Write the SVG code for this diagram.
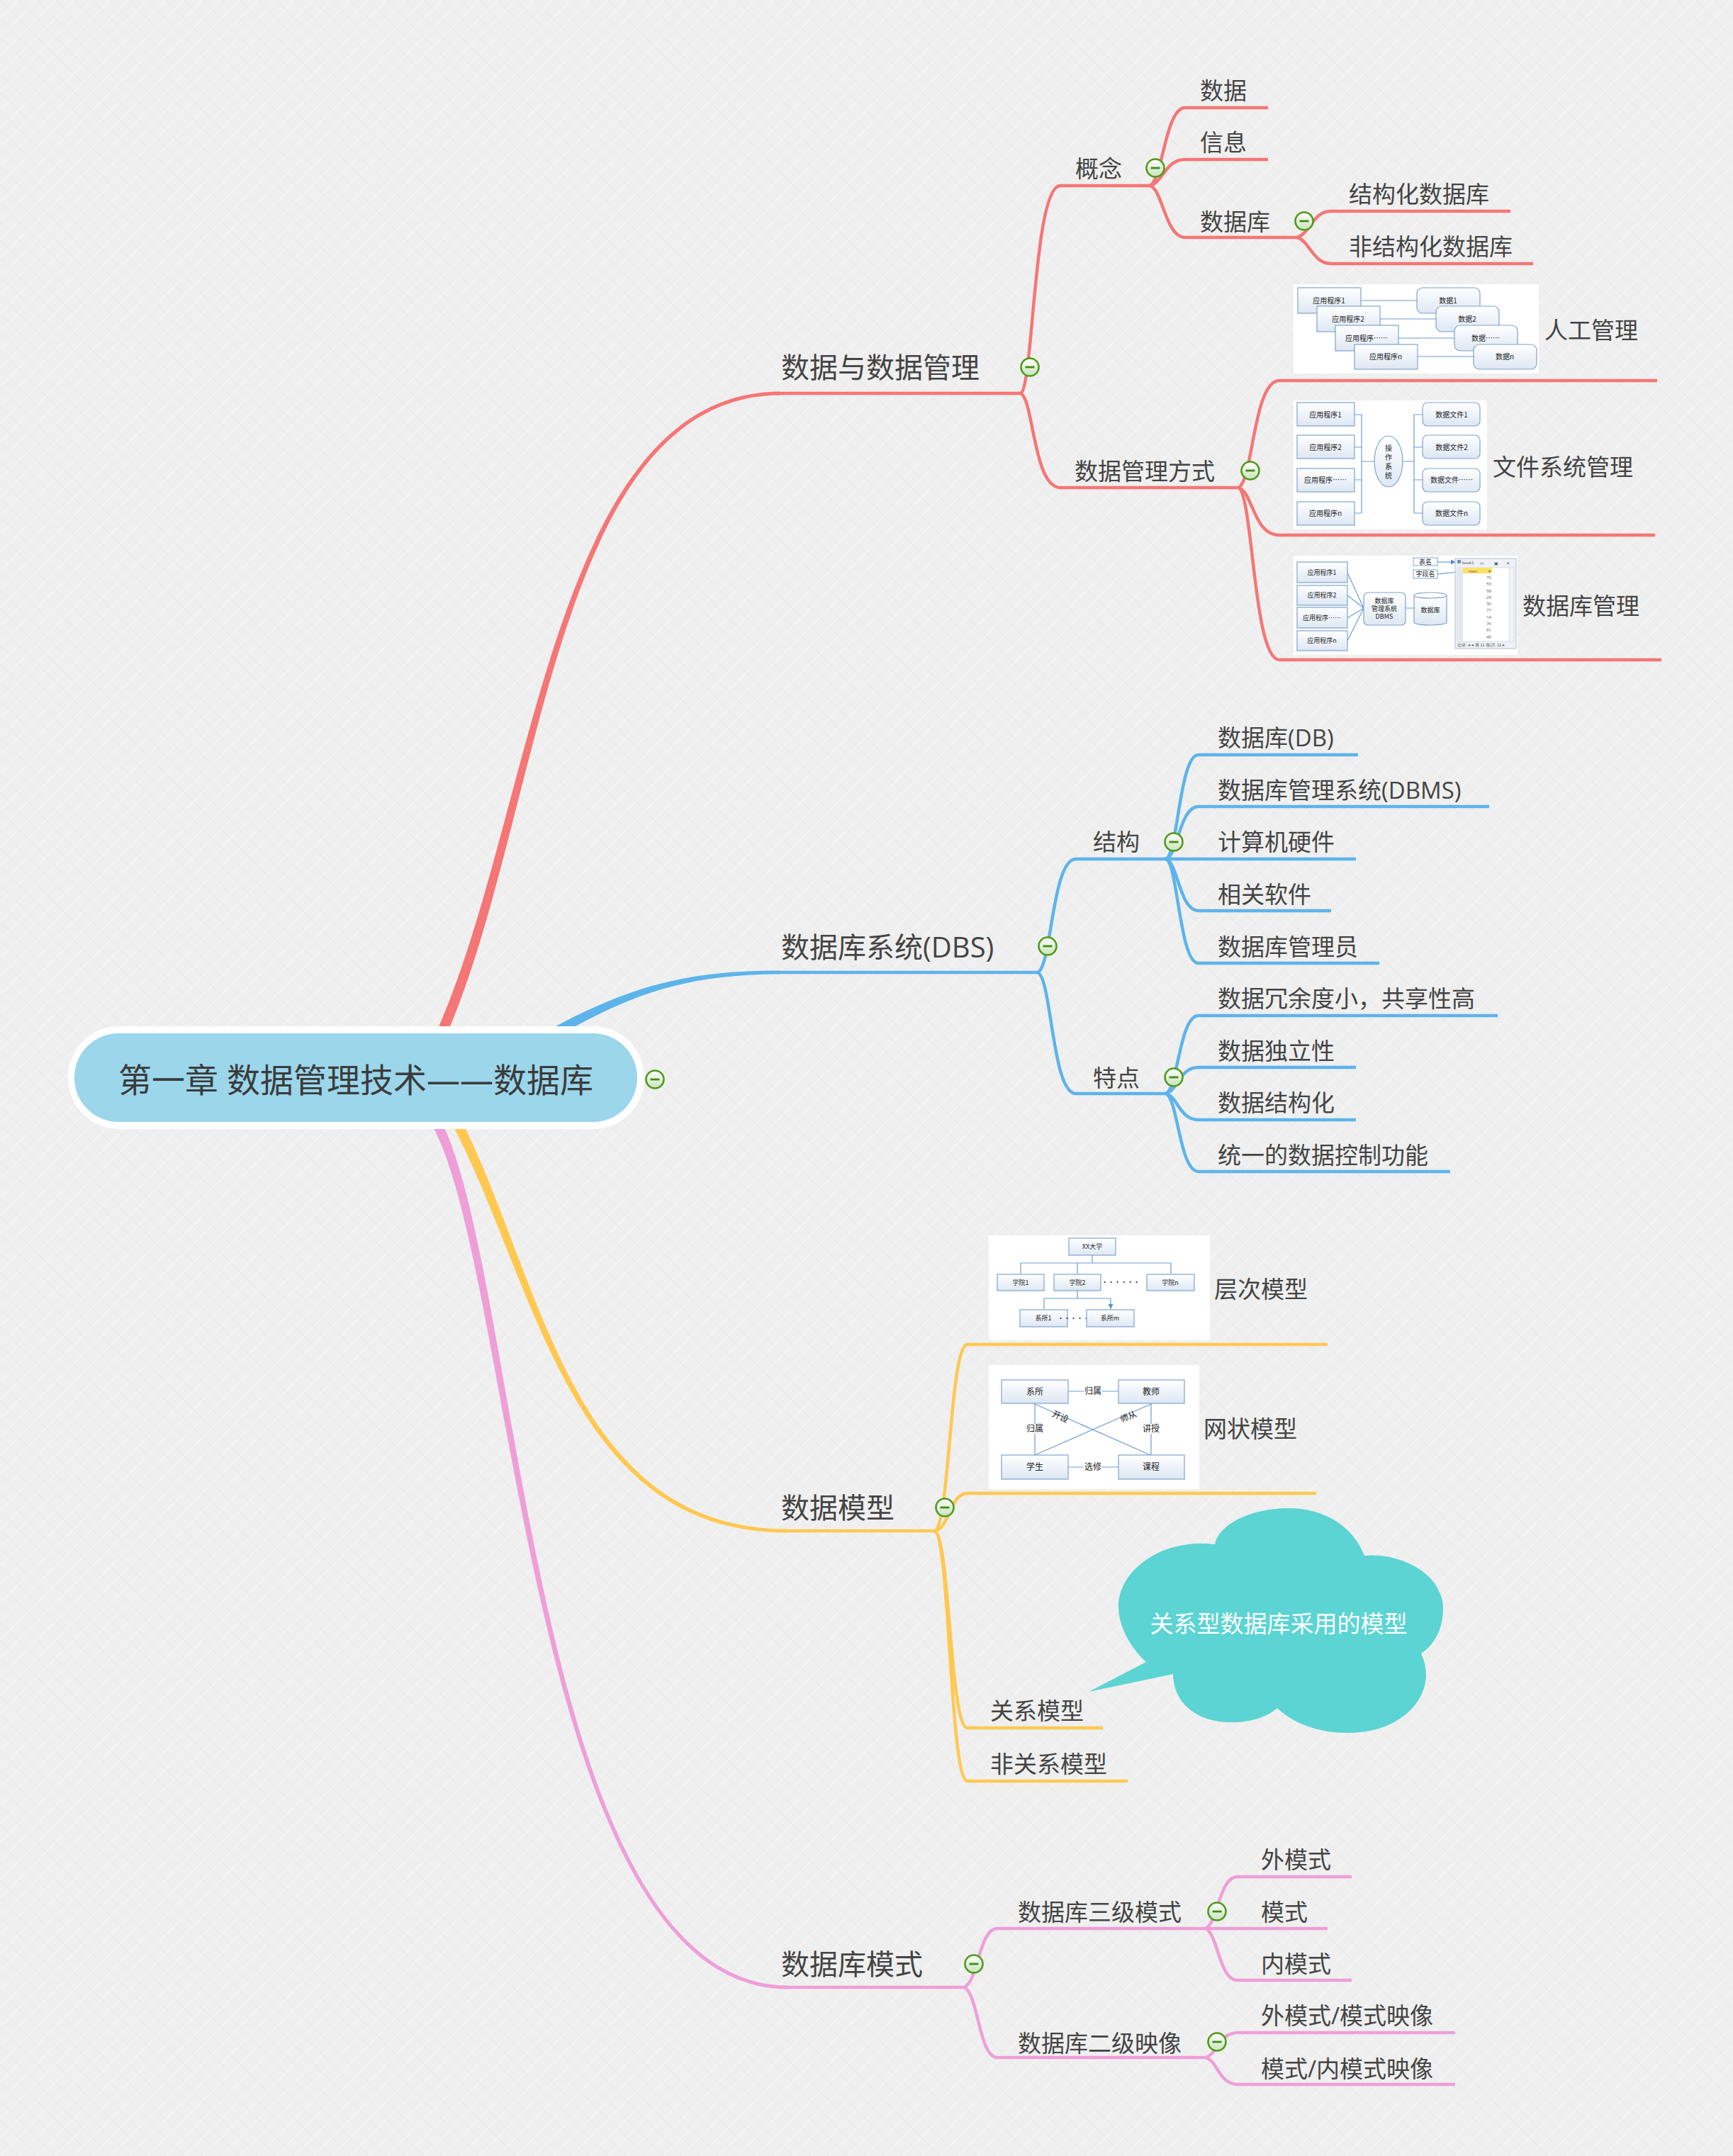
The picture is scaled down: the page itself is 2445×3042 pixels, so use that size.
<svg xmlns="http://www.w3.org/2000/svg" width="2445" height="3042" viewBox="0 0 2445 3042">
<style>
text{font-family:"Open Sans","Noto Sans CJK SC",sans-serif}
.t0{font-size:47px;fill:#3b3b3b;text-anchor:middle}
.t1{font-size:40px;fill:#444}
.t2{font-size:33px;fill:#444}
.tc{font-size:33px;fill:#fff;text-anchor:middle}
.it{font-family:"Noto Sans CJK SC",sans-serif;font-size:10px;fill:#222;text-anchor:middle}
.is{font-family:"Noto Sans CJK SC",sans-serif;font-size:9px;fill:#222;text-anchor:middle}
.im{font-family:"Noto Sans CJK SC",sans-serif;font-size:12px;fill:#222;text-anchor:middle}
.ix{font-family:"Liberation Sans",sans-serif;font-size:6px;fill:#555}
.ib{fill:url(#boxg);stroke:#7fa3cc;stroke-width:1.2}
.il{fill:none;stroke:#6f9bd0;stroke-width:1.2}
.red{fill:none;stroke:#f57676;stroke-width:4.5}
.blue{fill:none;stroke:#5db4ea;stroke-width:4.5}
.yel{fill:none;stroke:#ffc851;stroke-width:4.5}
.pink{fill:none;stroke:#ee9fd8;stroke-width:4.5}
</style>
<defs>
<pattern id="bg" width="26" height="26" patternUnits="userSpaceOnUse">
<rect width="26" height="26" fill="#efefef"/>
<path d="M0,26L26,0M-6,6L6,-6M20,32L32,20" stroke="#f7f7f7" stroke-width="1.2"/>
<path d="M0,0L26,26M-6,20L6,32M20,-6L32,6" stroke="#e5e5e5" stroke-width="0.8"/>
</pattern>
<linearGradient id="boxg" x1="0" y1="0" x2="0" y2="1"><stop offset="0" stop-color="#ffffff"/><stop offset="1" stop-color="#dde7f3"/></linearGradient>
<linearGradient id="cg" x1="0" y1="0" x2="0" y2="1"><stop offset="0" stop-color="#ffffff"/><stop offset="1" stop-color="#c9e3bb"/></linearGradient>
<marker id="ah" viewBox="0 0 6 6" refX="6" refY="3" markerWidth="6" markerHeight="6" orient="auto"><path d="M0,0L6,3L0,6z" fill="#5b8fcf"/></marker>
<g id="cb"><circle r="12.5" fill="url(#cg)" stroke="#4e9a1a" stroke-width="2.6"/><path d="M-6.5,0H6.5" stroke="#3f8c12" stroke-width="2.8"/></g>
</defs>
<rect width="2445" height="3042" fill="url(#bg)"/>

<g id="connectors">
<path fill="#f57676" d="M615.1,1457.4 C754.5,1147.8 778.5,554 1100,552.5 L1100,557.5 C781.5,560 765.5,1152.2 628.9,1462.6 Z"/>
<path fill="#5db4ea" d="M741.2,1471.5 C867.2,1400.1 949.5,1369 1100,1369.5 L1100,1374.5 C950.5,1375 872.8,1409.9 748.8,1484.5 Z"/>
<path fill="#ffc851" d="M646.2,1571.6 C764.4,1797.6 801.5,2157 1110,2157.5 L1110,2162.5 C798.5,2163 755.6,1802.4 633.8,1578.4 Z"/>
<path fill="#ee9fd8" d="M616,1571.2 C734.2,1757.3 742,2797 1110,2801.5 L1110,2806.5 C738,2803 725.8,1762.7 604,1578.8 Z"/>
<path class="red" stroke-width="5" d="M1098,555H1440"/>
<path class="blue" stroke-width="5" d="M1098,1372H1464"/>
<path class="yel" stroke-width="5" d="M1108,2160H1319"/>
<path class="pink" stroke-width="5" d="M1108,2804H1360"/>
<path class="red" d="M1440,555 C1458,548 1458,262 1496,262 L1622,262"/>
<path class="red" d="M1440,555 C1458,562 1458,688 1496,688 L1747,688"/>
<path class="red" d="M1622,262 C1640,256 1644,152 1672,152 L1789,152"/>
<path class="red" d="M1622,262 C1640,259 1644,225 1672,225 L1789,225"/>
<path class="red" d="M1622,262 C1640,265 1644,335 1672,335 L1830,335"/>
<path class="red" d="M1830,335 C1848,330 1852,298 1878,298 L2131,298"/>
<path class="red" d="M1830,335 C1848,340 1852,372 1878,372 L2163,372"/>
<path class="red" d="M1747,688 C1768,680 1768,537 1805,537 L2338,537"/>
<path class="red" d="M1747,688 C1768,694 1768,755 1805,755 L2335,755"/>
<path class="red" d="M1747,688 C1768,696 1768,931 1805,931 L2344,931"/>
<path class="blue" d="M1464,1372 C1484,1364 1484,1212 1518,1212 L1645,1212"/>
<path class="blue" d="M1464,1372 C1484,1380 1484,1543 1518,1543 L1645,1543"/>
<path class="blue" d="M1645,1212 C1662,1205 1664,1065 1691,1065 L1916,1065"/>
<path class="blue" d="M1645,1212 C1662,1207 1664,1138 1691,1138 L2101,1138"/>
<path class="blue" d="M1645,1212 L1913,1212"/>
<path class="blue" d="M1645,1212 C1662,1217 1664,1285 1691,1285 L1878,1285"/>
<path class="blue" d="M1645,1212 C1662,1219 1664,1359 1691,1359 L1946,1359"/>
<path class="blue" d="M1645,1543 C1662,1536 1664,1433 1691,1433 L2113,1433"/>
<path class="blue" d="M1645,1543 C1662,1538 1664,1506 1691,1506 L1913,1506"/>
<path class="blue" d="M1645,1543 C1662,1548 1664,1580 1691,1580 L1913,1580"/>
<path class="blue" d="M1645,1543 C1662,1550 1664,1653 1691,1653 L2046,1653"/>
<path class="yel" d="M1319,2160 C1340,2150 1340,1897 1365,1897 L1873,1897"/>
<path class="yel" d="M1319,2160 C1340,2156 1340,2107 1365,2107 L1857,2107"/>
<path class="yel" d="M1319,2160 C1340,2170 1340,2438 1365,2438 L1556,2438"/>
<path class="yel" d="M1319,2160 C1340,2170 1340,2513 1365,2513 L1591,2513"/>
<path class="pink" d="M1360,2804 C1380,2797 1381,2721 1407,2721 L1701,2721"/>
<path class="pink" d="M1360,2804 C1380,2811 1381,2903 1407,2903 L1701,2903"/>
<path class="pink" d="M1701,2721 C1718,2714 1720,2648 1746,2648 L1907,2648"/>
<path class="pink" d="M1701,2721 L1873,2721"/>
<path class="pink" d="M1701,2721 C1718,2728 1720,2794 1746,2794 L1907,2794"/>
<path class="pink" d="M1701,2903 C1718,2898 1720,2868 1746,2868 L2053,2868"/>
<path class="pink" d="M1701,2903 C1718,2908 1720,2941 1746,2941 L2053,2941"/>
</g>

<g id="root">
<rect x="96" y="1448" width="813" height="145" rx="72" fill="#ffffff"/>
<rect x="105" y="1458" width="794" height="125" rx="62" fill="#9bd6eb"/>
<text class="t0" x="502" y="1541">第一章 数据管理技术——数据库</text>
<use href="#cb" x="924" y="1523"/>
</g>

<g id="n-shujuyuguanli"><text class="t1" x="1102" y="533">数据与数据管理</text><use href="#cb" x="1453" y="518"/></g>
<g id="n-gainian"><text class="t2" x="1517" y="249.5">概念</text><use href="#cb" x="1630" y="237"/></g>
<g id="n-shuju"><text class="t2" x="1693" y="139.5">数据</text></g>
<g id="n-xinxi"><text class="t2" x="1693" y="212.5">信息</text></g>
<g id="n-shujuku"><text class="t2" x="1693" y="324.5">数据库</text><use href="#cb" x="1840" y="312"/></g>
<g id="n-jiegouhua"><text class="t2" x="1903" y="285.5">结构化数据库</text></g>
<g id="n-feijiegouhua"><text class="t2" x="1903" y="359.5">非结构化数据库</text></g>
<g id="n-guanlifangshi"><text class="t2" x="1516" y="676.5">数据管理方式</text><use href="#cb" x="1764" y="664"/></g>

<g id="n-rengong">
<rect x="1825" y="401" width="346" height="126" fill="#ffffff"/>
<path class="il" d="M1920,424H1999M1946,450H2026M1973,477H2052M1999,503H2079"/>
<rect class="ib" x="1831" y="406" width="89" height="36"/><text class="it" x="1875" y="427.5">应用程序1</text>
<rect class="ib" x="1858" y="432" width="89" height="36"/><text class="it" x="1902" y="453.5">应用程序2</text>
<rect class="ib" x="1884" y="459" width="89" height="36"/><text class="it" x="1928" y="480.5">应用程序……</text>
<rect class="ib" x="1911" y="486" width="89" height="35"/><text class="it" x="1955" y="507">应用程序n</text>
<rect class="ib" x="1999" y="406" width="89" height="36" rx="8"/><text class="it" x="2043" y="427.5">数据1</text>
<rect class="ib" x="2026" y="432" width="89" height="36" rx="8"/><text class="it" x="2070" y="453.5">数据2</text>
<rect class="ib" x="2052" y="459" width="89" height="36" rx="8"/><text class="it" x="2096" y="480.5">数据……</text>
<rect class="ib" x="2079" y="486" width="89" height="35" rx="8"/><text class="it" x="2123" y="507">数据n</text>
<text class="t2" x="2179" y="477.5">人工管理</text>
</g>

<g id="n-wenjian">
<rect x="1825" y="565" width="273" height="182" fill="#ffffff"/>
<path class="il" d="M1911,585H1921M1911,631H1921M1911,677H1921M1911,724H1921M1921,585V724M1921,651H1939M1979,651H1995M1995,585V724M1995,585H2007M1995,631H2007M1995,677H2007M1995,724H2007"/>
<rect class="ib" x="1830" y="568" width="81" height="33"/><text class="it" x="1870" y="588.5">应用程序1</text>
<rect class="ib" x="1830" y="614" width="81" height="33"/><text class="it" x="1870" y="634.5">应用程序2</text>
<rect class="ib" x="1830" y="661" width="81" height="33"/><text class="it" x="1870" y="681">应用程序……</text>
<rect class="ib" x="1830" y="708" width="81" height="33"/><text class="it" x="1870" y="728">应用程序n</text>
<ellipse class="ib" cx="1959" cy="651" rx="20" ry="36"/>
<text class="it" x="1959" y="636">操</text><text class="it" x="1959" y="649">作</text><text class="it" x="1959" y="662">系</text><text class="it" x="1959" y="675">统</text>
<rect class="ib" x="2007" y="568" width="81" height="33" rx="7"/><text class="it" x="2048" y="588.5">数据文件1</text>
<rect class="ib" x="2007" y="614" width="81" height="33" rx="7"/><text class="it" x="2048" y="634.5">数据文件2</text>
<rect class="ib" x="2007" y="661" width="81" height="33" rx="7"/><text class="it" x="2048" y="681">数据文件……</text>
<rect class="ib" x="2007" y="708" width="81" height="33" rx="7"/><text class="it" x="2048" y="728">数据文件n</text>
<text class="t2" x="2106" y="670.5">文件系统管理</text>
</g>

<g id="n-shujukuguanli">
<rect x="1825" y="784" width="316" height="140" fill="#ffffff"/>
<path class="il" d="M1901,808L1924,858M1901,840L1924,858M1901,872L1924,858M1901,904L1924,858M1983,858H1995"/>
<rect class="ib" x="1830" y="793" width="71" height="29"/><text class="is" x="1865" y="811">应用程序1</text>
<rect class="ib" x="1830" y="826" width="71" height="28"/><text class="is" x="1865" y="843">应用程序2</text>
<rect class="ib" x="1830" y="857" width="71" height="29"/><text class="is" x="1865" y="875">应用程序……</text>
<rect class="ib" x="1830" y="890" width="71" height="28"/><text class="is" x="1865" y="907">应用程序n</text>
<rect class="ib" x="1924" y="836" width="59" height="46" rx="6"/>
<text class="is" x="1953" y="851">数据库</text><text class="is" x="1953" y="862">管理系统</text><text class="is" x="1953" y="873" font-size="7">DBMS</text>
<path class="ib" d="M1995,840V878A23,4 0 0 0 2041,878V840"/>
<ellipse cx="2018" cy="840" rx="23" ry="4" fill="#ffffff" stroke="#7fa3cc" stroke-width="1.2"/>
<text class="is" x="2018" y="864">数据库</text>
<rect x="1994" y="787" width="34" height="11" fill="#fff" stroke="#7fa3cc" stroke-width="1"/><text class="is" x="2011" y="796" font-size="7.5">表名</text>
<rect x="1994" y="804" width="34" height="12" fill="#fff" stroke="#7fa3cc" stroke-width="1"/><text class="is" x="2011" y="813" font-size="7.5">字段名</text>
<path class="il" d="M2028,793H2054" stroke-width="0.8" marker-end="url(#ah)"/>
<path class="il" d="M2028,810L2066,806" stroke-width="0.8" marker-end="url(#ah)"/>
<rect x="2053" y="788" width="86" height="127" fill="#eef1f6" stroke="#b4bfd0" stroke-width="1"/>
<rect x="2056" y="790" width="5" height="5" fill="#6b8fc6"/>
<text class="ix" x="2063" y="796">book1</text>
<text class="ix" x="2088" y="797">▭</text><text class="ix" x="2108" y="797">▣</text><text class="ix" x="2125" y="797">✕</text>
<rect x="2056" y="801" width="75" height="104" fill="#ffffff" stroke="#c8cfdb" stroke-width="0.6"/>
<rect x="2056" y="801" width="8" height="104" fill="#e4e8ef"/>
<rect x="2064" y="801" width="41" height="8" fill="#ffe066"/>
<text class="ix" x="2072" y="807.5" font-size="5">num</text><text class="ix" x="2100" y="807.5" font-size="5">▾</text>
<rect x="2129" y="801" width="7" height="104" fill="#f3f3f3" stroke="#c8cfdb" stroke-width="0.5"/>
<g class="ix" text-anchor="end" font-size="5.5">
<text x="2104" y="817">70</text><text x="2104" y="826">53</text><text x="2104" y="836">58</text><text x="2104" y="845">29</text><text x="2104" y="854">30</text>
<text x="2104" y="863">77</text><text x="2104" y="873">14</text><text x="2104" y="882">76</text><text x="2104" y="891">81</text><text x="2104" y="901">45</text>
</g>
<text class="ix" x="2056" y="912" font-size="5" font-family="Noto Sans CJK SC,sans-serif">记录: ◂ ◂ 第 11 项(共 11 ▸</text>
<text class="t2" x="2148" y="866.5">数据库管理</text>
</g>

<g id="n-dbs"><text class="t1" x="1102" y="1351">数据库系统(DBS)</text><use href="#cb" x="1478" y="1335"/></g>
<g id="n-jiegou"><text class="t2" x="1542" y="1199.5">结构</text><use href="#cb" x="1656" y="1188"/></g>
<g id="n-db"><text class="t2" x="1718" y="1052.5">数据库(DB)</text></g>
<g id="n-dbms"><text class="t2" x="1718" y="1126.5">数据库管理系统(DBMS)</text></g>
<g id="n-yingjian"><text class="t2" x="1718" y="1199.5">计算机硬件</text></g>
<g id="n-ruanjian"><text class="t2" x="1718" y="1273.5">相关软件</text></g>
<g id="n-guanliyuan"><text class="t2" x="1718" y="1347.5">数据库管理员</text></g>
<g id="n-tedian"><text class="t2" x="1542" y="1532.5">特点</text><use href="#cb" x="1656" y="1520"/></g>
<g id="n-rongyu"><text class="t2" x="1718" y="1420.5">数据冗余度小，共享性高</text></g>
<g id="n-duli"><text class="t2" x="1718" y="1494.5">数据独立性</text></g>
<g id="n-jiegouhua2"><text class="t2" x="1718" y="1567.5">数据结构化</text></g>
<g id="n-kongzhi"><text class="t2" x="1718" y="1641.5">统一的数据控制功能</text></g>

<g id="n-moxing"><text class="t1" x="1102" y="2142">数据模型</text><use href="#cb" x="1333" y="2127"/></g>

<g id="n-cengci">
<rect x="1395" y="1743" width="312" height="148" fill="#ffffff"/>
<path class="il" d="M1541,1771V1782M1440,1782H1652M1520,1821V1832M1473,1832H1567"/>
<path class="il" d="M1440,1782V1797M1520,1782V1797M1652,1782V1797M1473,1832V1847M1567,1832V1847" marker-end="url(#ah)"/>
<rect class="ib" x="1508" y="1747" width="66" height="24"/><text class="is" x="1541" y="1762">XX大学</text>
<rect class="ib" x="1407" y="1798" width="66" height="23"/><text class="is" x="1440" y="1813">学院1</text>
<rect class="ib" x="1487" y="1798" width="66" height="23"/><text class="is" x="1520" y="1813">学院2</text>
<text class="is" x="1581" y="1812">······</text>
<rect class="ib" x="1618" y="1798" width="67" height="23"/><text class="is" x="1651" y="1813">学院n</text>
<rect class="ib" x="1439" y="1848" width="67" height="24"/><text class="is" x="1472" y="1863">系所1</text>
<text class="is" x="1519" y="1863">······</text>
<rect class="ib" x="1533" y="1848" width="67" height="24"/><text class="is" x="1566" y="1863">系所m</text>
<text class="t2" x="1713" y="1830.5">层次模型</text>
</g>

<g id="n-wangzhuang">
<rect x="1395" y="1926" width="297" height="175" fill="#ffffff"/>
<path class="il" d="M1507,1963H1578M1507,2070H1578M1460,1980V2053M1624,1980V2053M1460,1981L1623,2053M1624,1981L1460,2053"/>
<rect class="ib" x="1413" y="1947" width="94" height="33"/><text class="im" x="1460" y="1968">系所</text>
<rect class="ib" x="1578" y="1947" width="93" height="33"/><text class="im" x="1624" y="1968">教师</text>
<rect class="ib" x="1413" y="2053" width="94" height="34"/><text class="im" x="1460" y="2074">学生</text>
<rect class="ib" x="1578" y="2053" width="93" height="34"/><text class="im" x="1624" y="2074">课程</text>
<rect x="1529" y="1956" width="26" height="14" fill="#fff"/><text class="im" x="1542" y="1967">归属</text>
<rect x="1529" y="2063" width="26" height="14" fill="#fff"/><text class="im" x="1542" y="2074">选修</text>
<rect x="1447" y="2009" width="26" height="14" fill="#fff"/><text class="im" x="1460" y="2020">归属</text>
<rect x="1611" y="2009" width="26" height="14" fill="#fff"/><text class="im" x="1624" y="2020">讲授</text>
<text class="im" x="1496" y="2003" transform="rotate(24 1496 1999)">开设</text>
<text class="im" x="1592" y="2003" transform="rotate(-24 1592 1999)">师从</text>
<text class="t2" x="1698" y="2027.5">网状模型</text>
</g>

<g id="n-guanxi"><text class="t2" x="1397" y="2425.5">关系模型</text></g>
<g id="n-feiguanxi"><text class="t2" x="1397" y="2500.5">非关系模型</text></g>

<g id="callout">
<path fill="#5cd4d3" d="M1617,2345 C1595,2325 1578,2295 1578,2267 C1578,2215 1640,2170 1714,2179 C1720,2150 1765,2128 1818,2128 C1870,2128 1910,2155 1925,2195 C1975,2190 2036,2220 2036,2270 C2036,2300 2022,2322 2005,2333 C2030,2385 1985,2445 1902,2445 C1860,2445 1825,2432 1802,2410 C1785,2425 1760,2430 1737,2430 C1685,2430 1655,2400 1655,2362 L1536,2387 Z"/>
<text class="tc" x="1804" y="2302.5">关系型数据库采用的模型</text>
</g>

<g id="n-moshi"><text class="t1" x="1102" y="2786">数据库模式</text><use href="#cb" x="1374" y="2771"/></g>
<g id="n-sanji"><text class="t2" x="1436" y="2709.5">数据库三级模式</text><use href="#cb" x="1717" y="2697"/></g>
<g id="n-erji"><text class="t2" x="1436" y="2894.5">数据库二级映像</text><use href="#cb" x="1717" y="2881"/></g>
<g id="n-waimoshi"><text class="t2" x="1779" y="2635.5">外模式</text></g>
<g id="n-moshi2"><text class="t2" x="1779" y="2709.5">模式</text></g>
<g id="n-neimoshi"><text class="t2" x="1779" y="2782.5">内模式</text></g>
<g id="n-yingxiang1"><text class="t2" x="1779" y="2855.5">外模式/模式映像</text></g>
<g id="n-yingxiang2"><text class="t2" x="1779" y="2930.5">模式/内模式映像</text></g>
</svg>
